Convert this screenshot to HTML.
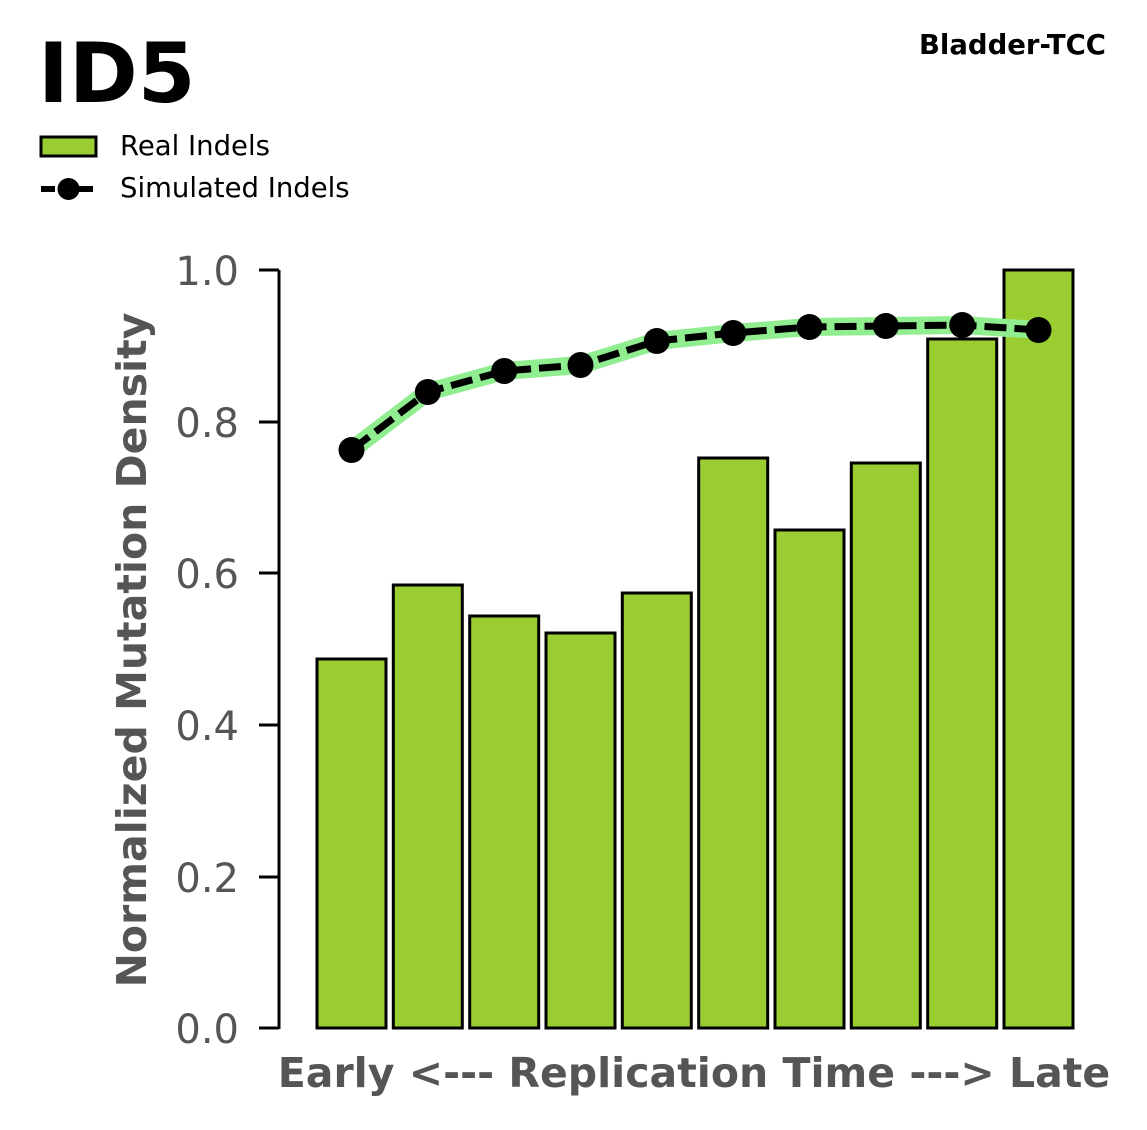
<!DOCTYPE html>
<html><head><style>
html,body{margin:0;padding:0;background:#fff;}
</style></head><body>
<svg width="1147" height="1125" xmlns="http://www.w3.org/2000/svg" font-family="'DejaVu Sans','Liberation Sans',sans-serif">
<rect width="1147" height="1125" fill="#fff"/>
<text x="38" y="102" font-size="83" font-weight="bold" fill="#000">ID5</text>
<text x="1106" y="54" font-size="27.5" font-weight="bold" fill="#000" text-anchor="end">Bladder-TCC</text>
<rect x="41" y="137" width="55" height="19" fill="#9acd32" stroke="#000" stroke-width="3"/>
<text x="120" y="155" font-size="27.5" fill="#000">Real Indels</text>
<line x1="41" y1="189" x2="96" y2="189" stroke="#000" stroke-width="6" stroke-dasharray="14,5"/>
<circle cx="68.5" cy="189" r="11" fill="#000"/>
<text x="120" y="197" font-size="27.5" fill="#000">Simulated Indels</text>
<line x1="279" y1="270" x2="279" y2="1029" stroke="#000" stroke-width="3"/>
<g stroke="#000" stroke-width="3">
<line x1="259" y1="270" x2="279" y2="270"/><line x1="259" y1="422" x2="279" y2="422"/>
<line x1="259" y1="573" x2="279" y2="573"/><line x1="259" y1="725" x2="279" y2="725"/>
<line x1="259" y1="877" x2="279" y2="877"/><line x1="259" y1="1028" x2="279" y2="1028"/>
</g>
<g font-size="40" fill="#555" text-anchor="end">
<text x="239" y="285">1.0</text><text x="239" y="437">0.8</text><text x="239" y="588">0.6</text>
<text x="239" y="740">0.4</text><text x="239" y="892">0.2</text><text x="239" y="1043">0.0</text>
</g>
<text transform="translate(146,650) rotate(-90)" font-size="41" font-weight="bold" fill="#555" text-anchor="middle">Normalized Mutation Density</text>
<text x="694" y="1087" font-size="41" font-weight="bold" fill="#555" text-anchor="middle">Early &lt;--- Replication Time ---&gt; Late</text>
<g fill="#9acd32" stroke="#000" stroke-width="3">
<rect x="317" y="659" width="69" height="369"/>
<rect x="393.3" y="585" width="69" height="443"/>
<rect x="469.7" y="616" width="69" height="412"/>
<rect x="546" y="633" width="69" height="395"/>
<rect x="622.3" y="593" width="69" height="435"/>
<rect x="698.7" y="458" width="69" height="570"/>
<rect x="775" y="530" width="69" height="498"/>
<rect x="851.3" y="463" width="69" height="565"/>
<rect x="927.7" y="339" width="69" height="689"/>
<rect x="1004" y="270" width="69" height="758"/>
</g>
<polyline fill="none" stroke="#90ee90" stroke-width="18" stroke-linejoin="round" stroke-linecap="round" points="351.5,450 427.8,392 504.2,371 580.5,365 656.8,341 733.2,333 809.5,327 885.8,326 962.2,325 1038.5,330"/>
<polyline fill="none" stroke="#000" stroke-width="7" stroke-dasharray="22,8" points="351.5,450 427.8,392 504.2,371 580.5,365 656.8,341 733.2,333 809.5,327 885.8,326 962.2,325 1038.5,330"/>
<g fill="#000">
<circle cx="351.5" cy="450" r="13"/><circle cx="427.8" cy="392" r="13"/><circle cx="504.2" cy="371" r="13"/>
<circle cx="580.5" cy="365" r="13"/><circle cx="656.8" cy="341" r="13"/><circle cx="733.2" cy="333" r="13"/>
<circle cx="809.5" cy="327" r="13"/><circle cx="885.8" cy="326" r="13"/><circle cx="962.2" cy="325" r="13"/>
<circle cx="1038.5" cy="330" r="13"/>
</g>
</svg>
</body></html>
